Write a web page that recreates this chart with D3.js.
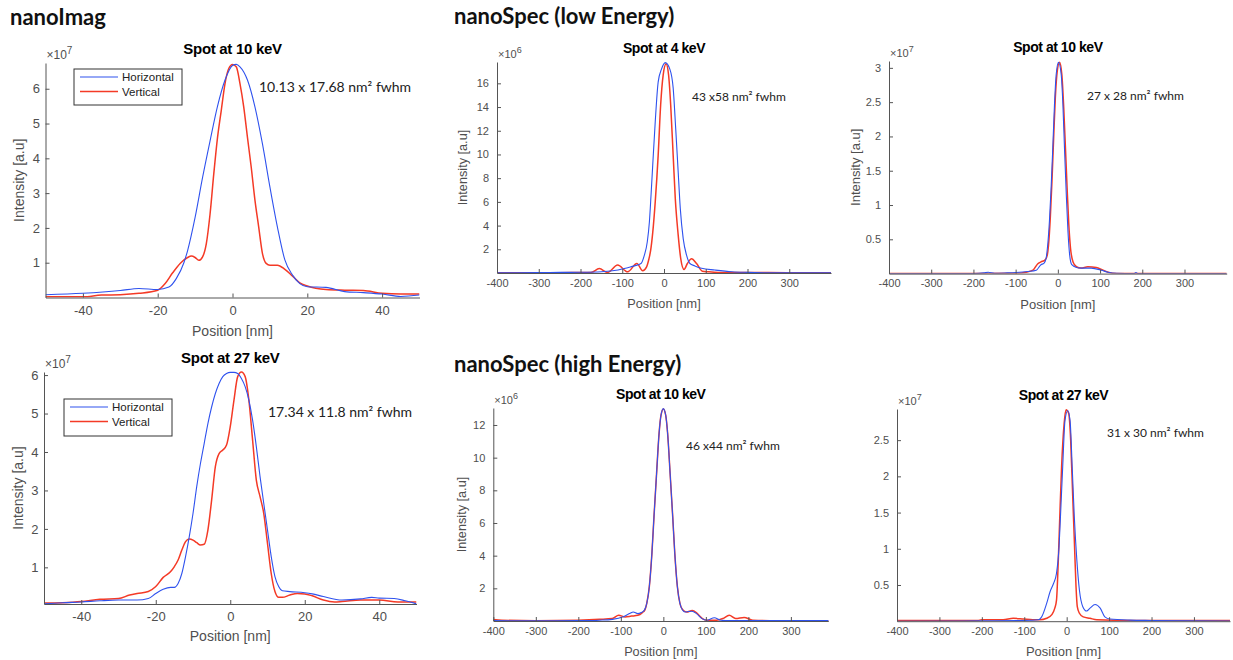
<!DOCTYPE html>
<html lang="en">
<head>
<meta charset="UTF-8">
<title>Spot profiles</title>
<script src="https://d3js.org/d3.v7.min.js"></script>
<style>
  body { margin: 0; background: #fff; }
  text { font-family: "Liberation Sans", Arial, sans-serif; }
</style>
</head>
<body>
<div id="chart"></div>
<script>
// ---------------- values ----------------
var headings = ["nanoImag", "nanoSpec (low Energy)", "nanoSpec (high Energy)"];
var titles = ["Spot at 10 keV", "Spot at 27 keV", "Spot at 4 keV", "Spot at 10 keV", "Spot at 10 keV", "Spot at 27 keV"];
var notes = ["10.13 x 17.68 nm\u00b2 fwhm", "17.34 x 11.8 nm\u00b2 fwhm", "43 x58 nm\u00b2 fwhm",
             "27 x 28 nm\u00b2 fwhm", "46 x44 nm\u00b2 fwhm", "31 x 30 nm\u00b2 fwhm"];
var exponents = ["7", "7", "6", "7", "6", "7"];
var legendLabels = ["Horizontal", "Vertical"];
var xLabel = "Position [nm]";
var yLabel = "Intensity [a.u]";

var xTicksImag = [-40, -20, 0, 20, 40];
var xTicksSpec = [-400, -300, -200, -100, 0, 100, 200, 300];
var yTicksImag = [1, 2, 3, 4, 5, 6];
var yTicksLow4 = [2, 4, 6, 8, 10, 12, 14, 16];
var yTicksLow10 = [0.5, 1, 1.5, 2, 2.5, 3];
var yTicksHigh10 = [2, 4, 6, 8, 10, 12];
var yTicksHigh27 = [0.5, 1, 1.5, 2, 2.5];

// [position nm, intensity in units of 10^exp]
var imag10Horizontal = [[-50,0.08],[-40,0.12],[-30,0.2],[-25,0.26],[-20,0.23],[-17,0.3],[-15,0.55],[-13,1.0],
  [-12,1.35],[-10,2.3],[-8,3.45],[-6,4.5],[-4,5.5],[-2,6.25],[0,6.67],[1,6.7],[2,6.63],[4,6.25],[6,5.48],
  [8,4.42],[10,3.18],[12,2.03],[14,1.08],[16,0.65],[18,0.4],[20,0.31],[25,0.29],[30,0.17],[35,0.14],
  [40,0.1],[45,0.03],[50,0.07]];
var imag10Vertical = [[-50,0.02],[-40,0.02],[-35,0.07],[-30,0.08],[-25,0.12],[-20,0.21],[-18,0.4],[-16,0.71],
  [-14,0.98],[-12,1.15],[-11,1.19],[-10,1.15],[-9,1.07],[-8,1.17],[-7,1.55],[-6,2.4],[-5,3.56],[-4,4.6],
  [-3,5.38],[-2,6.15],[-1,6.58],[0,6.7],[1,6.63],[2,6.15],[3,5.48],[4,4.6],[5,3.75],[6,2.8],[7,2.03],
  [8,1.27],[9,0.98],[10,0.93],[12,0.93],[14,0.81],[16,0.62],[18,0.42],[20,0.33],[25,0.23],[30,0.21],
  [35,0.2],[40,0.12],[45,0.1],[50,0.1]];

var imag27Horizontal = [[-50,0.05],[-45,0.08],[-40,0.1],[-35,0.13],[-30,0.15],[-25,0.15],[-22,0.19],[-20,0.32],
  [-18,0.43],[-16,0.48],[-15,0.48],[-14,0.58],[-13,0.84],[-12,1.28],[-11,1.8],[-10,2.4],[-9,3.1],[-8,3.7],
  [-7,4.22],[-6,4.74],[-5,5.17],[-4,5.52],[-3,5.78],[-2,5.96],[-1,6.04],[0,6.07],[1,6.07],[2,6.04],
  [3,5.91],[4,5.7],[5,5.35],[6,4.83],[7,4.14],[8,3.36],[9,2.66],[10,1.97],[11,1.28],[12,0.76],[13,0.5],
  [14,0.39],[16,0.37],[20,0.34],[22,0.31],[25,0.24],[30,0.15],[35,0.18],[38,0.22],[40,0.2],[44,0.19],
  [47,0.13],[50,0.05]];
var imag27Vertical = [[-50,0.07],[-45,0.08],[-40,0.11],[-35,0.17],[-30,0.19],[-27,0.28],[-25,0.32],[-22,0.37],
  [-20,0.5],[-18,0.74],[-16,0.89],[-15,1.02],[-14,1.19],[-13,1.45],[-12,1.67],[-11,1.74],[-10,1.71],
  [-9,1.64],[-8,1.58],[-7,1.6],[-6,1.97],[-5,2.75],[-4,3.62],[-3,3.96],[-2,4.05],[-1,4.18],[0,4.66],
  [1,5.35],[2,5.96],[3,6.08],[4,5.96],[5,5.35],[6,4.31],[7,3.27],[8,2.84],[9,2.4],[10,1.62],[11,0.84],
  [12,0.37],[13,0.22],[14,0.22],[16,0.28],[18,0.32],[20,0.31],[22,0.26],[25,0.15],[28,0.1],[30,0.11],
  [35,0.15],[40,0.15],[45,0.1],[50,0.1]];

var low4Horizontal = [[-400,0.02],[-300,0.03],[-250,0.05],[-200,0.06],[-150,0.1],[-110,0.25],[-87,0.45],
  [-71,0.6],[-55,0.8],[-47,1.5],[-40,2.64],[-35,4.3],[-31,6.6],[-27,9.1],[-21,12.75],[-14,16.1],[-6,17.2],
  [3,17.75],[14,17.2],[22,15.6],[28,12.2],[34,8.5],[39,5.45],[46,2.9],[54,1.5],[62,0.8],[74,0.6],[90,0.4],
  [122,0.25],[163,0.1],[200,0.05],[250,0.02],[300,0.01],[400,0.01]];
var low4Vertical = [[-400,0.02],[-250,0.03],[-175,0.05],[-155,0.37],[-135,0.05],[-111,0.67],[-87,0.1],
  [-65,0.8],[-51,0.2],[-42,0.5],[-36,1.2],[-32,1.9],[-27,3.4],[-21,6.0],[-14,9.9],[-8,14.2],[-2,16.7],
  [5,17.65],[11,16.7],[16,14.2],[22,9.9],[27,6.3],[34,3.2],[40,1.24],[48,0.3],[56,0.8],[66,1.2],[78,0.8],
  [92,0.15],[106,0.1],[130,0.05],[200,0.05],[300,0.02],[400,0.02]];

var low10Horizontal = [[-400,0],[-200,0],[-175,0.01],[-165,0.02],[-150,0.005],[-120,0.01],[-100,0.015],
  [-71,0.03],[-51,0.05],[-40,0.13],[-33,0.15],[-28,0.22],[-24,0.42],[-20,0.76],[-16,1.24],[-12,1.83],
  [-8,2.46],[-4,2.9],[1.6,3.08],[8,2.9],[12,2.46],[16,1.78],[20,1.15],[24,0.61],[28,0.27],[33,0.13],
  [44,0.09],[55,0.08],[79,0.08],[103,0.05],[119,0.02],[140,0.005],[180,0],[185,0.015],[190,0],[400,0]];
var low10Vertical = [[-400,0],[-200,0],[-100,0.005],[-75,0.02],[-59,0.05],[-48,0.14],[-40,0.17],[-30,0.2],
  [-25,0.27],[-22,0.42],[-18,0.8],[-14,1.34],[-10,1.97],[-6,2.56],[-1.6,2.94],[4,3.08],[9.5,2.9],[14,2.41],
  [18,1.83],[22,1.24],[26,0.71],[30,0.37],[36,0.17],[44,0.1],[55,0.08],[71,0.1],[91,0.09],[107,0.05],
  [119,0.02],[140,0],[400,0]];

var high10Horizontal = [[-400,0.02],[-300,0.01],[-200,0.02],[-150,0.05],[-120,0.1],[-94,0.26],[-78,0.47],
  [-71,0.55],[-60,0.45],[-52,0.52],[-45,0.65],[-39,1.08],[-33,2.1],[-27,4.1],[-22,6.4],[-16,9.0],[-10,11.5],
  [-5.5,12.6],[0,13.0],[5.5,12.6],[10,11.5],[16,9.0],[22,6.4],[27,4.1],[33,2.1],[39,1.08],[45,0.67],
  [51,0.55],[59,0.58],[67,0.6],[78,0.45],[90,0.16],[102,0.05],[120,0.2],[135,0.05],[160,0.02],[250,0.02],
  [400,0.02]];
var high10Vertical = [[-400,0.1],[-380,0.05],[-300,0.02],[-200,0.05],[-150,0.1],[-120,0.15],[-105,0.35],
  [-90,0.25],[-75,0.3],[-60,0.35],[-50,0.5],[-43,0.7],[-39,1.08],[-33,2.1],[-27,4.1],[-22,6.4],[-16,9.0],
  [-10,11.5],[-5.5,12.6],[0,12.98],[5.5,12.6],[10,11.5],[16,9.0],[22,6.4],[27,4.1],[33,2.1],[39,1.08],
  [45,0.7],[55,0.55],[68,0.65],[80,0.45],[92,0.15],[102,0.05],[125,0.05],[140,0.15],[155,0.35],[170,0.15],
  [190,0.22],[210,0.05],[250,0.02],[400,0.02]];

var high27Horizontal = [[-400,0],[-200,0.005],[-100,0.01],[-67,0.02],[-59,0.06],[-47,0.25],[-39,0.41],
  [-31,0.52],[-24,0.66],[-18,1.03],[-14,1.53],[-9.4,2.13],[-4,2.77],[2.4,2.91],[8,2.77],[13,2.13],[18,1.44],
  [24,0.84],[30,0.43],[38,0.2],[47,0.14],[55,0.18],[67,0.23],[79,0.18],[90,0.06],[102,0.03],[150,0.015],
  [200,0.01],[400,0]];
var high27Vertical = [[-400,0.01],[-210,0.01],[-200,0.02],[-150,0.02],[-126,0.04],[-102,0.03],[-80,0.02],
  [-63,0.02],[-47,0.04],[-35,0.09],[-28,0.18],[-24,0.29],[-20,0.8],[-16.5,1.4],[-12,2.13],[-6,2.73],
  [-1.6,2.92],[4.7,2.87],[9.4,2.5],[14,1.76],[18,1.12],[22,0.48],[25,0.2],[30,0.11],[39,0.06],[55,0.04],
  [71,0.02],[150,0.01],[400,0.01]];

// ---------------- layout ----------------
var W = 1233, H = 660;
var blue = "#2f52ee", red = "#f43a26", axisGray = "#555", textGray = "#4f4f4f";

var panels = [
  {h: imag10Horizontal, v: imag10Vertical, l: 45.5, r: 419.5, t: 63, b: 297.5, xDom: [-50, 50], yDom: [0, 6.74],
   xTicks: xTicksImag, yTicks: yTicksImag, tick: 13, tPad: 8, yPad: 5.5, lab: 14, xLabOff: 38, yLabOff: 26,
   titleSize: 15, titleSp: -0.3, note: [259, 92], noteSize: 14, expSize: 12,
   legend: {x: 74, y: 69, w: 108, h: 36}},
  {h: imag27Horizontal, v: imag27Vertical, l: 44, r: 416.5, t: 372, b: 604, xDom: [-50, 50], yDom: [0.047, 6.08],
   xTicks: xTicksImag, yTicks: yTicksImag, tick: 13, tPad: 8, yPad: 5.5, lab: 14, xLabOff: 37, yLabOff: 26,
   titleSize: 15, titleSp: -0.3, note: [268, 417], noteSize: 14, expSize: 12,
   legend: {x: 64, y: 399, w: 108, h: 37}},
  {h: low4Horizontal, v: low4Vertical, l: 497, r: 831, t: 62, b: 273, xDom: [-400, 400], yDom: [0, 17.8],
   xTicks: xTicksSpec, yTicks: yTicksLow4, tick: 11, tPad: 6, yPad: 8, lab: 12.7, xLabOff: 35, yLabOff: 34,
   titleSize: 14, titleSp: -0.45, note: [692, 101], noteSize: 12, expSize: 11},
  {h: low10Horizontal, v: low10Vertical, l: 889, r: 1226.7, t: 61, b: 273.6, xDom: [-400, 400], yDom: [0, 3.1],
   xTicks: xTicksSpec, yTicks: yTicksLow10, tick: 11, tPad: 6, yPad: 8, lab: 13, xLabOff: 35, yLabOff: 34,
   titleSize: 14, titleSp: -0.45, note: [1087, 100], noteSize: 12, expSize: 11},
  {h: high10Horizontal, v: high10Vertical, l: 493.3, r: 828.3, t: 408, b: 621, xDom: [-400, 388], yDom: [0, 13.04],
   xTicks: xTicksSpec, yTicks: yTicksHigh10, tick: 11, tPad: 6, yPad: 8, lab: 12.7, xLabOff: 35, yLabOff: 32,
   titleSize: 14, titleSp: -0.45, note: [686, 450], noteSize: 12, expSize: 11},
  {h: high27Horizontal, v: high27Vertical, l: 897, r: 1230, t: 409, b: 621.2, xDom: [-400, 385], yDom: [0, 2.93],
   xTicks: xTicksSpec, yTicks: yTicksHigh27, tick: 11, tPad: 6, yPad: 8, lab: 13, xLabOff: 35, yLabOff: null,
   titleSize: 14, titleSp: -0.45, note: [1107, 437], noteSize: 12, expSize: 11}
];

var svg = d3.select("#chart").append("svg")
  .attr("width", W).attr("height", H);
svg.append("rect").attr("width", W).attr("height", H).attr("fill", "#fff");
var defs = svg.append("defs");

// section headings
var headPos = [[10, 25], [454, 24], [454, 372]];
headings.forEach(function (txt, i) {
  svg.append("text")
    .attr("x", headPos[i][0]).attr("y", headPos[i][1])
    .style("font-family", "Lato, 'Open Sans', sans-serif")
    .style("font-weight", "bold").style("font-size", "22px")
    .attr("fill", "#111").text(txt);
});

panels.forEach(function (p, i) {
  var x = d3.scaleLinear().domain(p.xDom).range([p.l, p.r]);
  var y = d3.scaleLinear().domain(p.yDom).range([p.b, p.t]);
  var g = svg.append("g");

  defs.append("clipPath").attr("id", "clip" + i)
    .append("rect").attr("x", p.l).attr("y", p.t - 2)
    .attr("width", p.r - p.l).attr("height", p.b - p.t + 2);

  var line = d3.line()
    .x(function (d) { return x(d[0]); })
    .y(function (d) { return y(d[1]); })
    .curve(d3.curveMonotoneX);

  var curves = g.append("g").attr("clip-path", "url(#clip" + i + ")");
  curves.append("path").datum(p.v).attr("d", line)
    .attr("fill", "none").attr("stroke", red).attr("stroke-width", 1.5);
  curves.append("path").datum(p.h).attr("d", line)
    .attr("fill", "none").attr("stroke", blue).attr("stroke-width", 1.1);

  // axes
  var xa = g.append("g").attr("transform", "translate(0," + p.b + ")")
    .call(d3.axisBottom(x).tickValues(p.xTicks).tickSizeInner(-4).tickSizeOuter(0)
      .tickPadding(p.tPad).tickFormat(function (d) { return String(d); }));
  var ya = g.append("g").attr("transform", "translate(" + p.l + ",0)")
    .call(d3.axisLeft(y).tickValues(p.yTicks).tickSizeInner(-4).tickSizeOuter(0)
      .tickPadding(p.yPad).tickFormat(function (d) { return String(d); }));
  [xa, ya].forEach(function (a) {
    a.select(".domain").attr("stroke", axisGray);
    a.selectAll(".tick line").attr("stroke", axisGray);
    a.selectAll(".tick text").attr("fill", textGray)
      .style("font-family", "'Liberation Sans', Arial, sans-serif")
      .style("font-size", p.tick + "px");
  });

  var cx = (p.l + p.r) / 2;
  g.append("text").attr("x", cx).attr("y", p.b + p.xLabOff)
    .attr("text-anchor", "middle").attr("fill", textGray)
    .style("font-size", p.lab + "px").text(xLabel);
  if (p.yLabOff !== null) {
    g.append("text")
      .attr("transform", "translate(" + (p.l - p.yLabOff) + "," + ((p.t + p.b) / 2) + ") rotate(-90)")
      .attr("text-anchor", "middle").attr("dy", "0.35em").attr("fill", textGray)
      .style("font-size", p.lab + "px").text(yLabel);
  }

  // title
  g.append("text").attr("x", cx).attr("y", p.t - 9)
    .attr("text-anchor", "middle").attr("fill", "#000")
    .style("font-weight", "bold").style("font-size", p.titleSize + "px")
    .style("letter-spacing", p.titleSp + "px").text(titles[i]);

  // exponent
  var ex = g.append("text").attr("x", p.l + 1).attr("y", p.t - 4)
    .attr("fill", textGray).style("font-size", p.expSize + "px");
  ex.append("tspan").text("\u00d710");
  ex.append("tspan").attr("dy", -5).style("font-size", (p.expSize - 2) + "px").text(exponents[i]);

  // fwhm note
  g.append("text").attr("x", p.note[0]).attr("y", p.note[1])
    .style("font-family", "Lato, 'Open Sans', sans-serif")
    .style("font-size", p.noteSize + "px").attr("fill", "#222").text(notes[i]);

  // legend
  if (p.legend) {
    var L = p.legend;
    var lg = g.append("g").attr("transform", "translate(" + L.x + "," + L.y + ")");
    lg.append("rect").attr("width", L.w).attr("height", L.h)
      .attr("fill", "#fff").attr("stroke", "#333").attr("stroke-width", 1);
    [[blue, 1.1], [red, 1.6]].forEach(function (s, k) {
      var ry = 8 + k * 14.5;
      lg.append("line").attr("x1", 6).attr("x2", 44).attr("y1", ry).attr("y2", ry)
        .attr("stroke", s[0]).attr("stroke-width", s[1]);
      lg.append("text").attr("x", 48).attr("y", ry).attr("dy", "0.35em")
        .attr("fill", "#222").style("font-size", "11.5px").text(legendLabels[k]);
    });
  }
});
</script>
</body>
</html>
